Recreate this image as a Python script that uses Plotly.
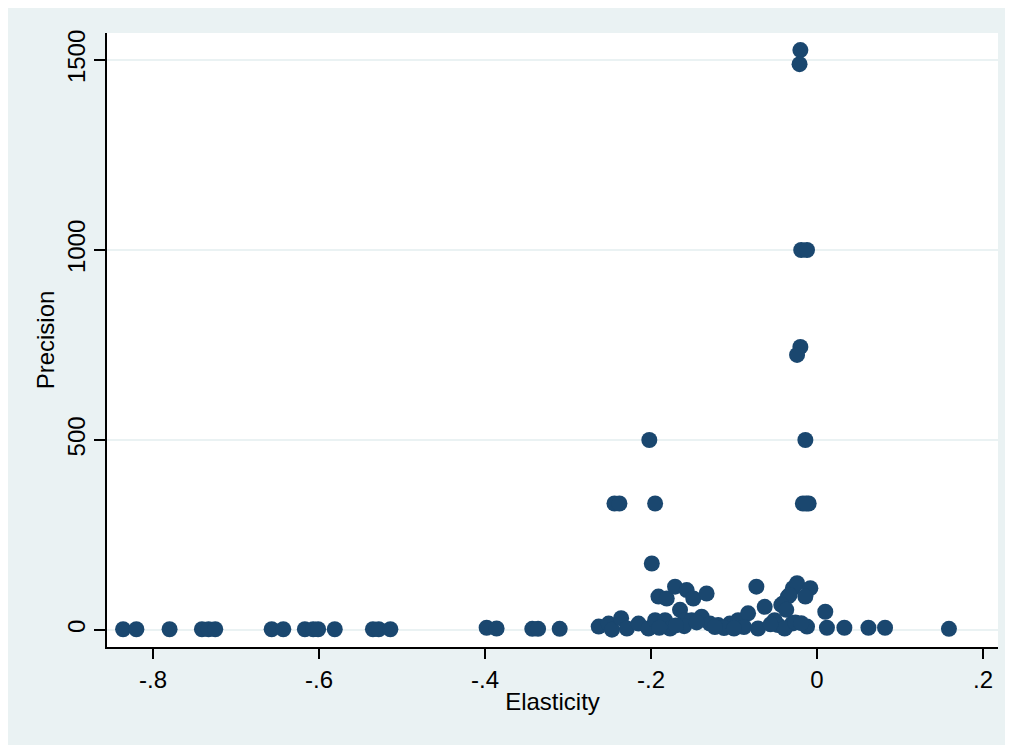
import plotly.graph_objects as go

# Elasticity (x) and Precision (y)
elasticity = [
    -0.836, -0.820, -0.780, -0.741, -0.733, -0.725, -0.657, -0.643, -0.617, -0.607,
    -0.601, -0.581, -0.535, -0.528, -0.514, -0.398, -0.386, -0.343, -0.336, -0.310,
    -0.263, -0.251, -0.247, -0.236, -0.229, -0.215, -0.203, -0.195, -0.191, -0.181,
    -0.183, -0.177, -0.171, -0.165, -0.159, -0.157, -0.149, -0.151, -0.139, -0.133,
    -0.129, -0.119, -0.105, -0.095, -0.083, -0.073, -0.071, -0.063, -0.051, -0.047,
    -0.041, -0.035, -0.029, -0.024, -0.008, -0.030, -0.039, -0.014, -0.033, -0.043,
    -0.037, -0.012, -0.088, -0.112, -0.160, -0.170, -0.190, -0.145, -0.123, -0.100,
    -0.056, -0.026, -0.019,
    -0.199, -0.202, -0.244, -0.238, -0.195, -0.020, -0.021, -0.019, -0.012, -0.020,
    -0.024, -0.014, -0.017, -0.010, -0.013,
    0.010, 0.012, 0.033, 0.062, 0.082, 0.159,
]
precision = [
    2, 2, 2, 2, 2, 2, 2, 2, 2, 2,
    2, 2, 2, 2, 2, 6, 4, 3, 3, 3,
    9, 17, 1, 31, 4, 17, 4, 26, 88, 83,
    26, 4, 114, 53, 26, 105, 83, 26, 35, 96,
    17, 13, 17, 26, 44, 114, 4, 61, 26, 13,
    70, 88, 110, 123, 110, 17, 4, 88, 92, 66,
    53, 9, 8, 5, 10, 12, 6, 20, 8, 4,
    15, 20, 18,
    175, 500, 333, 333, 333, 1526, 1489, 1000, 1000, 745,
    724, 500, 333, 333, 333,
    48, 6, 6, 6, 6, 3,
]

x_tickvals = [-0.8, -0.6, -0.4, -0.2, 0, 0.2]
x_ticktext = ["-.8", "-.6", "-.4", "-.2", "0", ".2"]
y_tickvals = [0, 500, 1000, 1500]
y_ticktext = ["0", "500", "1000", "1500"]

navy = "#1a476f"
bg = "#eaf2f3"

fig = go.Figure(go.Scatter(
    x=elasticity, y=precision, mode="markers",
    marker=dict(color=navy, size=16, line=dict(width=0)),
    hoverinfo="x+y",
))

W, H = 1013, 745
L, R, T, B = 99, 23, 25, 106

fig.update_layout(
    width=W, height=H,
    margin=dict(l=L, r=R, t=T, b=B, pad=0),
    paper_bgcolor=bg,
    plot_bgcolor="white",
    showlegend=False,
    font=dict(family="Liberation Sans, Arial, sans-serif", size=24, color="black"),
)

fig.update_xaxes(
    range=[-0.8554, 0.2181],
    tickvals=x_tickvals, ticktext=x_ticktext,
    showgrid=False, zeroline=False,
    showline=True, linecolor="black", linewidth=1.5,
    ticks="outside", ticklen=10, tickwidth=1.5, tickcolor="black",
    tickfont=dict(size=24),
    title=dict(text="Elasticity", font=dict(size=24), standoff=2),
)
fig.update_yaxes(
    range=[-44.7, 1571],
    tickvals=y_tickvals, ticktext=y_ticktext, tickangle=-90,
    showgrid=True, gridcolor=bg, gridwidth=1.5, zeroline=False,
    showline=True, linecolor="black", linewidth=1.5,
    ticks="outside", ticklen=11, tickwidth=1.5, tickcolor="black",
    tickfont=dict(size=24),
    title=dict(text="Precision", font=dict(size=24), standoff=1),
)

fig.write_html("out.html")
